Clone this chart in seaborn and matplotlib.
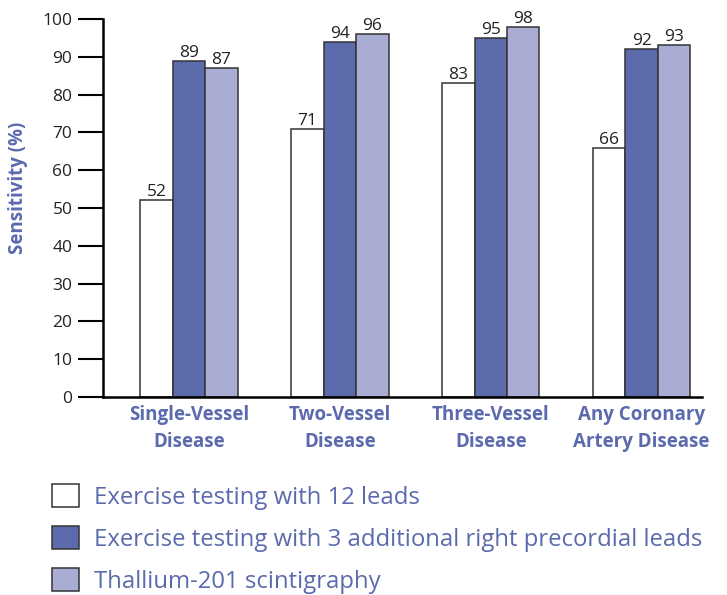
import matplotlib
matplotlib.use("Agg")
import matplotlib.pyplot as plt
import seaborn as sns
import pandas as pd

# Categories and series
categories = ["Single-Vessel\nDisease", "Two-Vessel\nDisease",
              "Three-Vessel\nDisease", "Any Coronary\nArtery Disease"]
series_names = ["Exercise testing with 12 leads",
                "Exercise testing with 3 additional right precordial leads",
                "Thallium-201 scintigraphy"]
leads12 = [52, 71, 83, 66]
leads15 = [89, 94, 95, 92]
thallium = [87, 96, 98, 93]
y_ticks = [0, 10, 20, 30, 40, 50, 60, 70, 80, 90, 100]

colors = ["#ffffff", "#5c6bab", "#a9acd3"]
label_color = "#5b6aad"

rows = []
for name, vals in zip(series_names, [leads12, leads15, thallium]):
    for cat, v in zip(categories, vals):
        rows.append({"category": cat, "series": name, "value": v})
df = pd.DataFrame(rows)

sns.set_style("white")
plt.rcParams["font.family"] = ["Open Sans", "DejaVu Sans"]

fig = plt.figure(figsize=(7.27, 5.95), dpi=100)
ax = fig.add_axes([103 / 727, 1 - 397 / 595, (702 - 103) / 727, (397 - 19) / 595])

sns.barplot(data=df, x="category", y="value", hue="series",
            hue_order=series_names, order=categories,
            palette=colors, width=0.645, edgecolor="#333333",
            linewidth=1.1, saturation=1, ax=ax, legend=True)

for cont in ax.containers:
    ax.bar_label(cont, fmt="%d", padding=0, fontsize=12.5, color="#222222")

ax.set_xlim(-0.57, 3.40)
ax.set_ylim(0, 100)
ax.set_yticks(y_ticks)
ax.set_xlabel("")
ax.set_ylabel("Sensitivity (%)", fontsize=13.5, fontweight="bold",
              color=label_color)
ax.yaxis.set_label_coords(-0.126, 0.553)

for side in ["top", "right"]:
    ax.spines[side].set_visible(False)
for side in ["left", "bottom"]:
    ax.spines[side].set_color("black")
    ax.spines[side].set_linewidth(1.8)

ax.tick_params(axis="y", length=18, width=1.5, color="black",
               labelsize=12.5, labelcolor="#222222", pad=4, direction="out", left=True)
ax.tick_params(axis="x", length=0, pad=6)
for lbl in ax.get_xticklabels():
    lbl.set_fontsize(13.5)
    lbl.set_fontweight("bold")
    lbl.set_color(label_color)
    lbl.set_linespacing(1.45)

handles, labels = ax.get_legend_handles_labels()
ax.get_legend().remove()
leg = fig.legend(handles, labels, loc="upper left",
                 bbox_to_anchor=(52 / 727, 1 - 484 / 595),
                 frameon=False, fontsize=17.2, handlelength=1.12,
                 handleheight=1.12, handletextpad=0.65, labelspacing=0.68,
                 borderaxespad=0, borderpad=0)
for t in leg.get_texts():
    t.set_color(label_color)

fig.savefig("out.png", dpi=100)
